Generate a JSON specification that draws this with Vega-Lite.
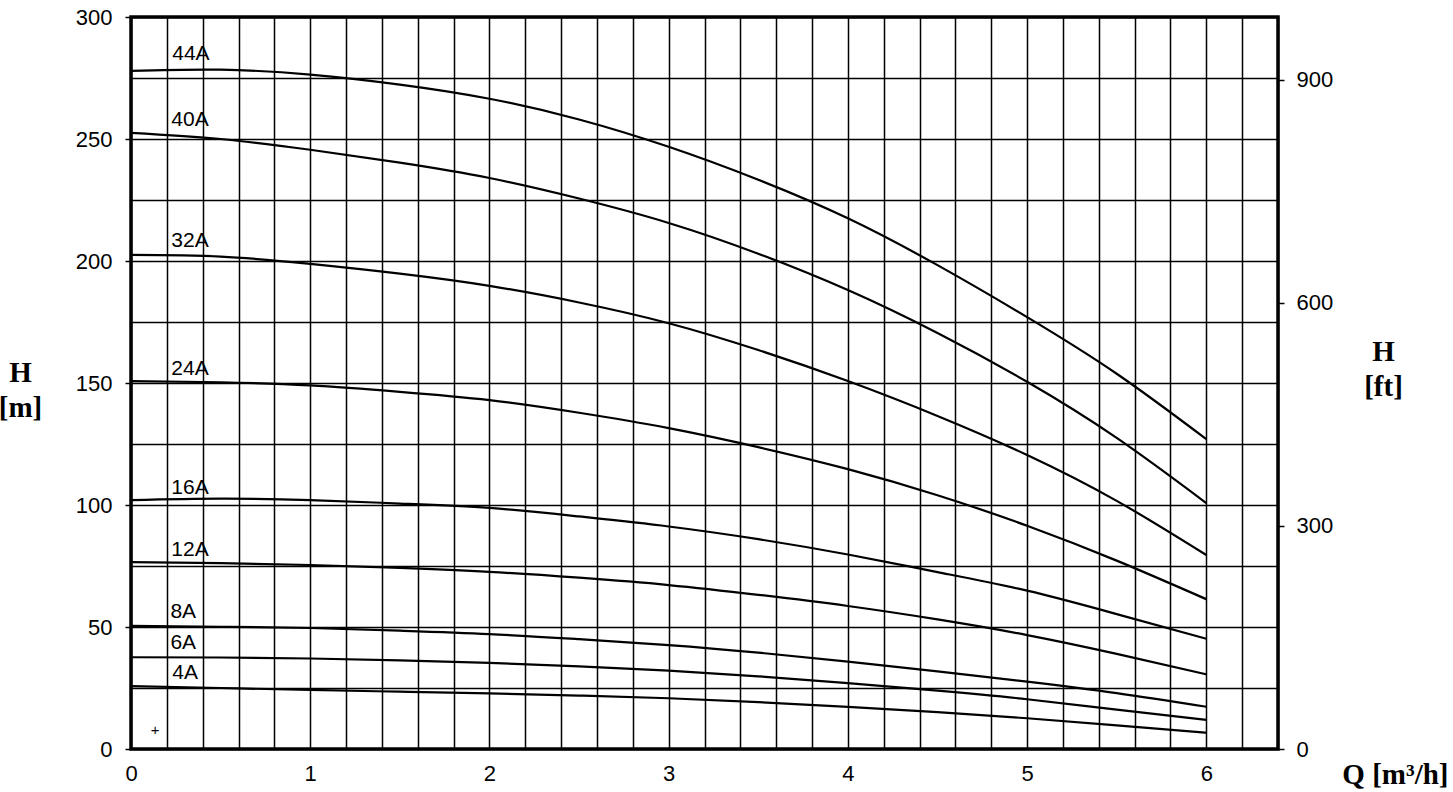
{
  "$schema": "https://vega.github.io/schema/vega-lite/v6.json",
  "width": 1147,
  "height": 732,
  "autosize": "none",
  "padding": {"left": 131, "top": 17, "right": 175, "bottom": 43},
  "background": "white",
  "config": {
    "view": {"stroke": "black", "strokeWidth": 3.5},
    "axis": {
      "labelFont": "Liberation Sans",
      "labelFontSize": 22,
      "labelColor": "black",
      "tickColor": "black",
      "tickWidth": 1.5,
      "domain": false,
      "titleFont": "Liberation Serif",
      "titleFontWeight": "bold",
      "titleFontSize": 29,
      "titleColor": "black",
      "titleLineHeight": 35,
      "labelOverlap": false,
      "labelFlush": false
    }
  },
  "datasets": {
    "curves": [
      {"series": "44A", "q": 0, "h": 277.9}, {"series": "44A", "q": 0.5, "h": 278.4}, {"series": "44A", "q": 1, "h": 276.4}, {"series": "44A", "q": 1.5, "h": 272.3}, {"series": "44A", "q": 2, "h": 266.5}, {"series": "44A", "q": 2.5, "h": 258}, {"series": "44A", "q": 3, "h": 246.8}, {"series": "44A", "q": 3.5, "h": 233.3}, {"series": "44A", "q": 4, "h": 217.5}, {"series": "44A", "q": 4.5, "h": 198.3}, {"series": "44A", "q": 5, "h": 177}, {"series": "44A", "q": 5.5, "h": 153.8}, {"series": "44A", "q": 6, "h": 127},
      {"series": "40A", "q": 0, "h": 252.5}, {"series": "40A", "q": 0.5, "h": 250}, {"series": "40A", "q": 1, "h": 245.6}, {"series": "40A", "q": 1.5, "h": 240.3}, {"series": "40A", "q": 2, "h": 234}, {"series": "40A", "q": 2.5, "h": 225.6}, {"series": "40A", "q": 3, "h": 215.6}, {"series": "40A", "q": 3.5, "h": 203}, {"series": "40A", "q": 4, "h": 188.1}, {"series": "40A", "q": 4.5, "h": 170.5}, {"series": "40A", "q": 5, "h": 150.5}, {"series": "40A", "q": 5.5, "h": 127.5}, {"series": "40A", "q": 6, "h": 100.8},
      {"series": "32A", "q": 0, "h": 202.5}, {"series": "32A", "q": 0.5, "h": 201.8}, {"series": "32A", "q": 1, "h": 198.8}, {"series": "32A", "q": 1.5, "h": 194.8}, {"series": "32A", "q": 2, "h": 189.8}, {"series": "32A", "q": 2.5, "h": 183}, {"series": "32A", "q": 3, "h": 174.5}, {"series": "32A", "q": 3.5, "h": 163.5}, {"series": "32A", "q": 4, "h": 150.8}, {"series": "32A", "q": 4.5, "h": 136.5}, {"series": "32A", "q": 5, "h": 120.5}, {"series": "32A", "q": 5.5, "h": 101.7}, {"series": "32A", "q": 6, "h": 79.5},
      {"series": "24A", "q": 0, "h": 150.8}, {"series": "24A", "q": 0.5, "h": 150.3}, {"series": "24A", "q": 1, "h": 149}, {"series": "24A", "q": 1.5, "h": 146.4}, {"series": "24A", "q": 2, "h": 143}, {"series": "24A", "q": 2.5, "h": 137.8}, {"series": "24A", "q": 3, "h": 131.5}, {"series": "24A", "q": 3.5, "h": 123.7}, {"series": "24A", "q": 4, "h": 114.7}, {"series": "24A", "q": 4.5, "h": 104}, {"series": "24A", "q": 5, "h": 91.5}, {"series": "24A", "q": 5.5, "h": 77.2}, {"series": "24A", "q": 6, "h": 61.4},
      {"series": "16A", "q": 0, "h": 102}, {"series": "16A", "q": 0.5, "h": 102.6}, {"series": "16A", "q": 1, "h": 102}, {"series": "16A", "q": 1.5, "h": 100.6}, {"series": "16A", "q": 2, "h": 98.8}, {"series": "16A", "q": 2.5, "h": 95.3}, {"series": "16A", "q": 3, "h": 91.2}, {"series": "16A", "q": 3.5, "h": 86}, {"series": "16A", "q": 4, "h": 79.7}, {"series": "16A", "q": 4.5, "h": 72.5}, {"series": "16A", "q": 5, "h": 64.9}, {"series": "16A", "q": 5.5, "h": 55.3}, {"series": "16A", "q": 6, "h": 45.2},
      {"series": "12A", "q": 0, "h": 76.6}, {"series": "12A", "q": 0.5, "h": 76.2}, {"series": "12A", "q": 1, "h": 75.4}, {"series": "12A", "q": 1.5, "h": 74.2}, {"series": "12A", "q": 2, "h": 72.6}, {"series": "12A", "q": 2.5, "h": 70.2}, {"series": "12A", "q": 3, "h": 67.2}, {"series": "12A", "q": 3.5, "h": 63.2}, {"series": "12A", "q": 4, "h": 58.6}, {"series": "12A", "q": 4.5, "h": 53.1}, {"series": "12A", "q": 5, "h": 46.7}, {"series": "12A", "q": 5.5, "h": 39}, {"series": "12A", "q": 6, "h": 30.6},
      {"series": "8A", "q": 0, "h": 50.5}, {"series": "8A", "q": 0.5, "h": 50.1}, {"series": "8A", "q": 1, "h": 49.6}, {"series": "8A", "q": 1.5, "h": 48.5}, {"series": "8A", "q": 2, "h": 47.1}, {"series": "8A", "q": 2.5, "h": 45}, {"series": "8A", "q": 3, "h": 42.6}, {"series": "8A", "q": 3.5, "h": 39.5}, {"series": "8A", "q": 4, "h": 35.8}, {"series": "8A", "q": 4.5, "h": 31.8}, {"series": "8A", "q": 5, "h": 27.6}, {"series": "8A", "q": 5.5, "h": 22.9}, {"series": "8A", "q": 6, "h": 17.3},
      {"series": "6A", "q": 0, "h": 37.6}, {"series": "6A", "q": 0.5, "h": 37.5}, {"series": "6A", "q": 1, "h": 37.1}, {"series": "6A", "q": 1.5, "h": 36.3}, {"series": "6A", "q": 2, "h": 35.3}, {"series": "6A", "q": 2.5, "h": 33.9}, {"series": "6A", "q": 3, "h": 32.1}, {"series": "6A", "q": 3.5, "h": 29.8}, {"series": "6A", "q": 4, "h": 27}, {"series": "6A", "q": 4.5, "h": 23.9}, {"series": "6A", "q": 5, "h": 20.4}, {"series": "6A", "q": 5.5, "h": 16.1}, {"series": "6A", "q": 6, "h": 11.9},
      {"series": "4A", "q": 0, "h": 25.8}, {"series": "4A", "q": 0.5, "h": 25}, {"series": "4A", "q": 1, "h": 24.2}, {"series": "4A", "q": 1.5, "h": 23.5}, {"series": "4A", "q": 2, "h": 22.8}, {"series": "4A", "q": 2.5, "h": 21.9}, {"series": "4A", "q": 3, "h": 20.8}, {"series": "4A", "q": 3.5, "h": 19.2}, {"series": "4A", "q": 4, "h": 17.3}, {"series": "4A", "q": 4.5, "h": 15.1}, {"series": "4A", "q": 5, "h": 12.6}, {"series": "4A", "q": 5.5, "h": 9.7}, {"series": "4A", "q": 6, "h": 6.7}
    ],
    "labels": [
      {"label": "44A", "q": 0.23, "h": 284.8},
      {"label": "40A", "q": 0.225, "h": 257.8},
      {"label": "32A", "q": 0.225, "h": 208.2},
      {"label": "24A", "q": 0.225, "h": 155.7},
      {"label": "16A", "q": 0.225, "h": 107},
      {"label": "12A", "q": 0.225, "h": 81.6},
      {"label": "8A", "q": 0.22, "h": 56.3},
      {"label": "6A", "q": 0.22, "h": 43.3},
      {"label": "4A", "q": 0.23, "h": 31.2}
    ],
    "marker": [{"label": "+", "q": 0.134, "h": 7.6}],
    "feet": [{"ft": 0}, {"ft": 984.252}]
  },
  "layer": [
    {
      "encoding": {
        "x": {
          "field": "q", "type": "quantitative",
          "scale": {"domain": [0, 6.4], "nice": false, "zero": false},
          "axis": {
            "values": [0, 0.2, 0.4, 0.6, 0.8, 1, 1.2, 1.4, 1.6, 1.8, 2, 2.2, 2.4, 2.6, 2.8, 3, 3.2, 3.4, 3.6, 3.8, 4, 4.2, 4.4, 4.6, 4.8, 5, 5.2, 5.4, 5.6, 5.8, 6, 6.2, 6.4],
            "labelExpr": "abs(datum.value - round(datum.value)) < 0.000001 ? format(datum.value, 'd') : ''",
            "ticks": false,
            "grid": true,
            "gridColor": "black",
            "gridWidth": 1.5,
            "gridOpacity": 1,
            "labelPadding": 14,
            "title": "Q [m³/h]",
            "titleX": 1317,
            "titleY": 25,
            "titleAlign": "right",
            "titleBaseline": "middle"
          }
        },
        "y": {
          "field": "h", "type": "quantitative",
          "scale": {"domain": [0, 300], "nice": false},
          "axis": {
            "values": [0, 25, 50, 75, 100, 125, 150, 175, 200, 225, 250, 275, 300],
            "labelExpr": "datum.value % 50 === 0 ? format(datum.value, 'd') : ''",
            "tickSize": 6,
            "tickOpacity": {"condition": {"test": "datum.value % 50 === 0", "value": 1}, "value": 0},
            "grid": true,
            "gridColor": "black",
            "gridWidth": 1.5,
            "gridOpacity": 1,
            "labelPadding": 13,
            "title": ["H", "[m]"],
            "titleAngle": 0,
            "titleX": -111,
            "titleY": 355,
            "titleAlign": "center",
            "titleBaseline": "middle"
          }
        }
      },
      "layer": [
        {
          "data": {"name": "curves"},
          "mark": {"type": "line", "color": "black", "strokeWidth": 2.2, "interpolate": "natural"},
          "encoding": {"detail": {"field": "series", "type": "nominal"}}
        },
        {
          "data": {"name": "labels"},
          "mark": {"type": "text", "font": "Liberation Sans", "fontSize": 21, "align": "left", "baseline": "middle", "color": "black"},
          "encoding": {"text": {"field": "label", "type": "nominal"}}
        },
        {
          "data": {"name": "marker"},
          "mark": {"type": "text", "font": "Liberation Sans", "fontSize": 15, "align": "center", "baseline": "middle", "color": "black"},
          "encoding": {"text": {"field": "label", "type": "nominal"}}
        }
      ]
    },
    {
      "data": {"name": "feet"},
      "mark": {"type": "point", "opacity": 0},
      "encoding": {
        "y": {
          "field": "ft", "type": "quantitative",
          "scale": {"domain": [0, 984.252], "nice": false},
          "axis": {
            "orient": "right",
            "values": [0, 300, 600, 900],
            "format": "d",
            "grid": false,
            "tickSize": 6,
            "labelPadding": 12,
            "title": ["H", "[ft]"],
            "titleAngle": 0,
            "titleX": 105,
            "titleY": 334,
            "titleAlign": "center",
            "titleBaseline": "middle"
          }
        }
      }
    }
  ],
  "resolve": {"scale": {"y": "independent"}}
}
